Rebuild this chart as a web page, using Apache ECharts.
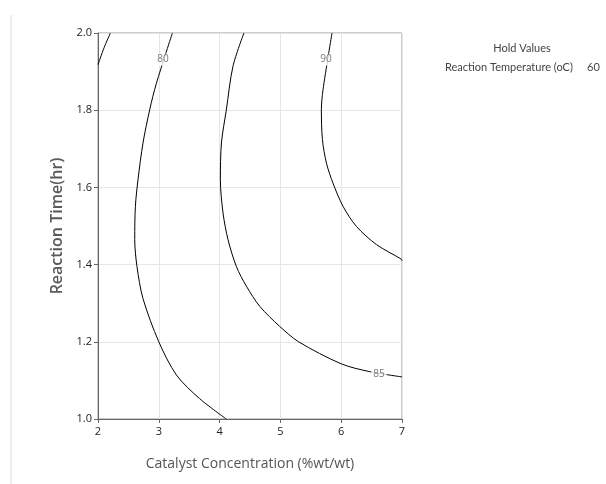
<!DOCTYPE html>
<html>
<head>
<meta charset="utf-8">
<script src="https://cdn.jsdelivr.net/npm/echarts@6/dist/echarts.min.js"></script>
<style>html,body{margin:0;padding:0;background:#fff;}#c{width:606px;height:484px;}</style>
</head>
<body>
<div id="c"></div>
<script>
const xTicks = [2, 3, 4, 5, 6, 7];
const yTicks = [1.0, 1.2, 1.4, 1.6, 1.8, 2.0];
const contour75 = [[2.0,1.918],[2.1,1.962],[2.204,2.0]];
const contour80 = [[3.224,2.0],[2.961,1.870],[2.850,1.801],[2.740,1.715],[2.658,1.620],[2.615,1.551],[2.604,1.465],[2.641,1.395],[2.74,1.312],[3.0,1.20],[3.29,1.114],[3.67,1.053],[4.11,1.0]];
const contour85 = [[4.40,2.0],[4.22,1.914],[4.11,1.80],[4.03,1.715],[4.013,1.62],[4.056,1.534],[4.138,1.465],[4.276,1.395],[4.441,1.344],[4.660,1.292],[4.988,1.240],[5.30,1.200],[6.0,1.143],[6.46,1.123],[7.0,1.109]];
const contour90 = [[5.849,2.0],[5.701,1.853],[5.674,1.801],[5.691,1.724],[5.757,1.663],[5.865,1.611],[6.030,1.551],[6.250,1.499],[6.579,1.452],[6.990,1.414],[7.0,1.41]];
const contourLabels = [[3.07,1.931,'80'],[5.75,1.931,'90'],[6.62,1.117,'85']];
const holdTitle = 'Hold Values';
const holdName = 'Reaction Temperature (oC)';
const holdValue = '60';

const chart = echarts.init(document.getElementById('c'));
const lineSeries = [contour75, contour80, contour85, contour90].map(d => ({
  type: 'line', data: d, smooth: 0.3, symbol: 'none', silent: true,
  lineStyle: {color: '#000', width: 1}, z: 3
}));
chart.setOption({
  animation: false,
  grid: {left: 98, right: 204, top: 33, bottom: 65, show: true, borderColor: '#999', borderWidth: 1},
  xAxis: {
    type: 'value', min: xTicks[0], max: xTicks[xTicks.length-1], interval: 1,
    name: 'Catalyst Concentration (%wt/wt)', nameLocation: 'middle', nameGap: 38,
    nameTextStyle: {fontFamily: 'Open Sans', fontSize: 14, color: '#555'},
    axisLine: {show: true, onZero: false, lineStyle: {color: '#666'}},
    axisTick: {show: true, length: 4, lineStyle: {color: '#666'}},
    axisLabel: {fontFamily: 'Open Sans', fontSize: 11, color: '#222', margin: 7},
    splitLine: {show: true, lineStyle: {color: '#e6e6e6'}}
  },
  yAxis: {
    type: 'value', min: yTicks[0], max: yTicks[yTicks.length-1], interval: 0.2,
    name: 'Reaction Time(hr)', nameLocation: 'middle', nameGap: 27,
    nameTextStyle: {fontFamily: 'Open Sans', fontSize: 16, fontWeight: 600, color: '#5a5a5a'},
    axisLine: {show: true, onZero: false, lineStyle: {color: '#666'}},
    axisTick: {show: true, length: 4, lineStyle: {color: '#666'}},
    axisLabel: {fontFamily: 'Open Sans', fontSize: 11, color: '#222', margin: 6, formatter: v => v.toFixed(1)},
    splitLine: {show: true, lineStyle: {color: '#e6e6e6'}}
  },
  series: lineSeries.concat([{
    type: 'scatter', data: contourLabels, symbolSize: 1, itemStyle: {color: 'rgba(0,0,0,0)'}, silent: true, z: 5,
    label: {show: true, position: 'inside', formatter: p => p.data[2], fontFamily: 'Open Sans', fontSize: 10,
      color: '#555', backgroundColor: '#fff', padding: [1, 2]}
  }]),
  graphic: [
    {type: 'line', shape: {x1: 11, y1: 15, x2: 11, y2: 484}, style: {stroke: '#ddd', lineWidth: 1}},
    {type: 'text', x: 522, y: 48, style: {text: holdTitle, font: '11px Lato', fill: '#444', align: 'center', verticalAlign: 'middle'}},
    {type: 'text', x: 445, y: 67, style: {text: holdName, font: '11px Lato', fill: '#444', verticalAlign: 'middle'}},
    {type: 'text', x: 587, y: 67, style: {text: holdValue, font: '11px Lato', fill: '#444', verticalAlign: 'middle'}}
  ]
});
</script>
</body>
</html>
